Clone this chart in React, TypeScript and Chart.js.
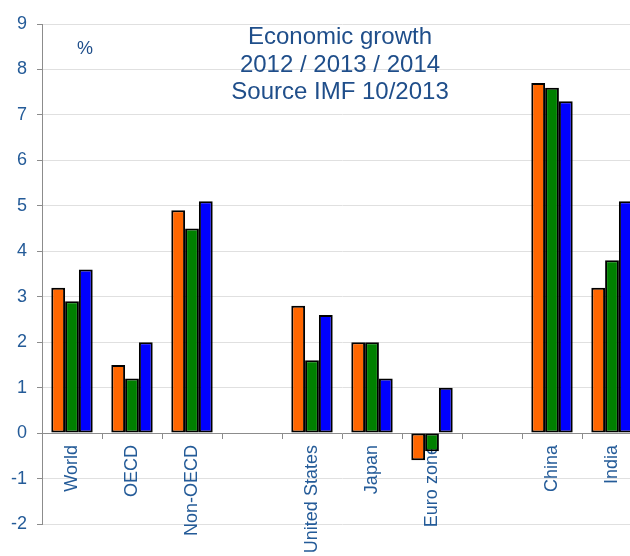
import React, { useEffect, useRef } from 'react';
import { Chart, registerables } from 'chart.js';

Chart.register(...registerables);

const categories = ['World', 'OECD', 'Non-OECD', '', 'United States', 'Japan', 'Euro zone', '', 'China', 'India'];
const seriesNames = ['2012', '2013', '2014'];
const growth2012 = [3.2, 1.5, 4.9, null, 2.8, 2.0, -0.6, null, 7.7, 3.2];
const growth2013 = [2.9, 1.2, 4.5, null, 1.6, 2.0, -0.4, null, 7.6, 3.8];
const growth2014 = [3.6, 2.0, 5.1, null, 2.6, 1.2, 1.0, null, 7.3, 5.1];
const yMin = -2;
const yMax = 9;
const titleLines = ['Economic growth', '2012 / 2013 / 2014', 'Source IMF 10/2013'];
const unitLabel = '%';

const seriesColors = ['#FF6600', '#008000', '#0000FF'];
const FONT = "'Liberation Sans', Arial, sans-serif";
const TEXT_BLUE = '#245B98';
const TITLE_BLUE = '#1F4E8A';

const overlayText = {
  id: 'overlayText',
  afterDraw(chart: any) {
    const { ctx, chartArea } = chart;
    ctx.save();
    ctx.fillStyle = TITLE_BLUE;
    ctx.textAlign = 'center';
    ctx.textBaseline = 'alphabetic';
    ctx.font = `24px ${FONT}`;
    const cx = chartArea.left + 298;
    const offsets = [20, 48, 75];
    titleLines.forEach((line, i) => {
      ctx.fillText(line, cx, chartArea.top + offsets[i]);
    });
    ctx.font = `18px ${FONT}`;
    ctx.fillText(unitLabel, chartArea.left + 43, chartArea.top + 30);
    ctx.restore();
  },
};

export default function App() {
  const ref = useRef<HTMLCanvasElement>(null);
  useEffect(() => {
    if (!ref.current) return;
    const datasets = [growth2012, growth2013, growth2014].map((d, i) => ({
      label: seriesNames[i],
      data: d,
      backgroundColor: seriesColors[i],
      borderColor: '#000000',
      borderWidth: 2,
      borderSkipped: false,
      barPercentage: 1,
      categoryPercentage: 0.69,
    }));
    const chart = new Chart(ref.current, {
      type: 'bar',
      data: { labels: categories, datasets },
      plugins: [overlayText],
      options: {
        responsive: false,
        animation: false,
        layout: { padding: { top: 24, bottom: 32, right: 8, left: 0 } },
        plugins: {
          legend: { display: false },
          tooltip: { enabled: false },
          title: { display: false },
        },
        scales: {
          x: {
            position: { y: 0 } as any,
            afterFit: (scale: any) => {
              scale.height = 0;
            },
            grid: {
              display: true,
              drawOnChartArea: false,
              drawTicks: true,
              tickLength: 5,
              color: '#8c8c8c',
              offset: true,
            },
            border: { display: true, color: '#8c8c8c', width: 1 },
            ticks: {
              minRotation: 90,
              maxRotation: 90,
              autoSkip: false,
              padding: 7,
              color: TEXT_BLUE,
              font: { family: FONT, size: 18 },
            },
          },
          y: {
            min: yMin,
            max: yMax,
            afterFit: (scale: any) => {
              scale.width = 42;
            },
            ticks: {
              stepSize: 1,
              padding: 10,
              color: TEXT_BLUE,
              font: { family: FONT, size: 18 },
            },
            grid: {
              color: '#E0E0E0',
              tickColor: '#8c8c8c',
              tickLength: 5,
            },
            border: { display: true, color: '#8c8c8c', width: 1 },
          },
        },
      },
    });
    return () => chart.destroy();
  }, []);
  return (
    <div style={{ position: 'absolute', left: 0, top: 0, width: 650, height: 556, background: '#fff' }}>
      <canvas ref={ref} width={650} height={556} style={{ width: 650, height: 556, display: 'block' }} />
    </div>
  );
}
